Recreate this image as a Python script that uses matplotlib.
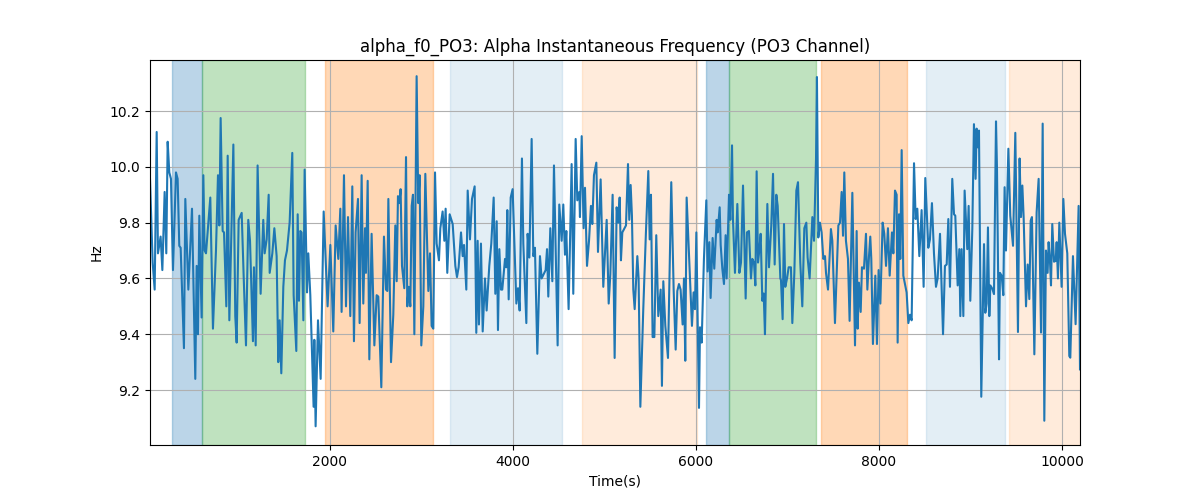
import matplotlib
matplotlib.use("Agg")
import matplotlib.pyplot as plt
import numpy as np

time_s = [
    33, 62, 84, 106, 120, 149, 168, 193, 211, 226, 244, 262, 284, 317, 335, 353, 368, 404, 419, 452,
    492, 528, 543, 557, 572, 597, 616, 630, 645, 692, 721, 754, 776, 791, 805, 827, 842, 867, 882, 900,
    918, 944, 965, 980, 1002, 1035, 1056, 1082, 1107, 1126, 1158, 1169, 1188, 1209, 1242, 1271, 1286, 1308, 1330, 1341,
    1370, 1392, 1417, 1435, 1450, 1468, 1490, 1508, 1530, 1559, 1588, 1603, 1632, 1647, 1661, 1676, 1690, 1709, 1723, 1749,
    1763, 1785, 1821, 1829, 1843, 1869, 1898, 1931, 1974, 2004, 2036, 2062, 2091, 2113, 2127, 2153, 2175, 2197, 2222, 2244,
    2262, 2280, 2306, 2324, 2346, 2364, 2383, 2393, 2412, 2430, 2455, 2485, 2510, 2528, 2561, 2590,
    2612, 2627, 2638, 2667, 2692, 2714, 2729, 2743, 2758, 2772, 2787, 2812, 2831, 2845, 2860, 2878, 2893, 2907, 2922, 2947,
    2965, 2980, 2998, 3020, 3042, 3075, 3093, 3111, 3129, 3148, 3166, 3191, 3206, 3231, 3250, 3264, 3282, 3308, 3341, 3370,
    3388, 3406, 3432, 3450, 3465, 3490, 3505, 3530, 3552, 3581, 3599, 3614, 3628, 3650, 3669, 3694, 3712, 3741, 3763, 3789,
    3807, 3822, 3836, 3851,
    3869, 3883, 3913, 3927, 3938, 3953, 3975, 3996, 4015, 4037, 4055, 4073, 4098, 4113, 4146, 4160, 4179, 4204, 4222, 4240,
    4266, 4295, 4313, 4343, 4357, 4372, 4386, 4408, 4430, 4448, 4470, 4488, 4506, 4532, 4550, 4568, 4583, 4608, 4641, 4659,
    4685, 4703, 4725, 4732, 4751, 4772, 4787, 4809, 4831, 4852, 4867, 4885, 4911, 4929, 4958, 4987, 5024, 5046, 5064, 5089, 5111,
    5133, 5151, 5166, 5180, 5195, 5235, 5257, 5271, 5286, 5300, 5315, 5330, 5359, 5373, 5392, 5424, 5453, 5479, 5494, 5508,
    5526, 5545, 5566, 5588, 5614, 5628, 5643, 5665, 5694, 5730, 5756, 5778, 5796, 5814, 5832, 5854, 5869, 5883, 5898, 5923,
    5956, 5974, 5989, 6004, 6033, 6044, 6062, 6087, 6113, 6127, 6146, 6160, 6182, 6200, 6226, 6237, 6259, 6270, 6288, 6306,
    6324, 6335, 6361,
    6375, 6394, 6404, 6426, 6452, 6474, 6492, 6514, 6543, 6557, 6579, 6601, 6616, 6634, 6649, 6663, 6678, 6692, 6707, 6725,
    6740, 6754, 6780, 6798, 6823, 6842, 6860, 6878, 6893, 6922, 6929, 6947, 6962, 6976, 6995, 7013, 7038, 7053, 7075, 7097,
    7115, 7140, 7162, 7184, 7206, 7220, 7242, 7272, 7290, 7312, 7322, 7337, 7355, 7373, 7392, 7410, 7421, 7443, 7475, 7490,
    7519, 7556, 7574, 7592, 7607, 7621,
    7639, 7661, 7679, 7709, 7723, 7738, 7756, 7767, 7781, 7800, 7814, 7836, 7858, 7873, 7891, 7905, 7916, 7934, 7960, 7978,
    7996, 8015, 8040, 8058, 8077, 8098, 8117, 8142, 8157, 8175, 8193, 8204, 8219, 8233, 8248, 8266, 8302, 8321, 8339, 8357,
    8383, 8401, 8419, 8441, 8466, 8488, 8506, 8539, 8557, 8579, 8601, 8623, 8641, 8667, 8685, 8700, 8721, 8740, 8758, 8776,
    8801, 8820, 8834, 8860, 8878,
    8889, 8903, 8922, 8936, 8965, 8980, 8998, 9020, 9038, 9056, 9067, 9078, 9093, 9118, 9148, 9162, 9177, 9191, 9206, 9217,
    9239, 9257, 9279, 9290, 9312, 9322, 9341, 9359, 9373, 9388, 9414, 9435, 9465, 9490, 9519, 9537, 9552, 9567, 9581, 9607,
    9625, 9643, 9658, 9672, 9698, 9723, 9745, 9771, 9789, 9807, 9825, 9843, 9854, 9869, 9880, 9894, 9913, 9931, 9942, 9956,
    9971, 9996, 10015, 10033, 10058, 10080, 10091, 10120, 10149, 10182, 10197,
]

freq_hz = [
    9.957, 9.657, 9.56, 10.125, 9.69, 9.75, 9.63, 9.91, 9.69, 10.09, 9.98, 9.957, 9.63, 9.98, 9.957, 9.717, 9.71, 9.35, 9.885, 9.56,
    9.85, 9.24, 9.645, 9.40, 9.825, 9.46, 9.97, 9.70, 9.69, 9.89, 9.42, 9.70, 9.97, 9.79, 10.175, 9.77, 9.765, 9.50, 10.04, 9.45,
    9.70, 10.08, 9.465, 9.37, 9.81, 9.835, 9.615, 9.36, 9.81, 9.735, 9.375, 9.64, 9.36, 10.005, 9.545, 9.81, 9.69, 9.74, 9.90, 9.62,
    9.69, 9.78, 9.68, 9.30, 9.45, 9.26, 9.57, 9.665, 9.70, 9.80, 10.05, 9.54, 9.34, 9.83, 9.52, 9.77, 9.765, 9.45, 9.99, 9.55,
    9.69, 9.54, 9.14, 9.38, 9.07, 9.45, 9.24, 9.84, 9.50, 9.72, 9.41, 9.79, 9.67, 9.85, 9.48, 9.97, 9.50, 9.82, 9.465, 9.93,
    9.375, 9.765, 9.885, 9.44, 9.97, 9.51, 9.78, 9.62, 9.95, 9.31, 9.76, 9.36, 9.54, 9.535, 9.21, 9.75,
    9.56, 9.555, 9.885, 9.30, 9.47, 9.79, 9.59, 9.895, 9.87, 9.92, 9.645, 9.565, 10.035, 9.50, 9.57, 9.50, 9.86, 9.90, 9.40, 10.325,
    9.87, 9.97, 9.36, 9.50, 9.975, 9.555, 9.69, 9.43, 9.42, 9.98, 9.725, 9.665, 9.78, 9.84, 9.735, 9.85, 9.62, 9.83, 9.795, 9.645,
    9.605, 9.64, 9.765, 9.68, 9.72, 9.56, 9.915, 9.74, 9.885, 9.93, 9.405, 9.735, 9.435, 9.725, 9.41, 9.60, 9.485, 9.645, 9.725, 9.89,
    9.545, 9.805, 9.415, 9.705,
    9.56, 9.56, 9.67, 9.64, 9.845, 9.525, 9.89, 9.92, 9.725, 9.51, 9.565, 9.485, 10.03, 9.725, 9.44, 9.76, 9.675, 10.10, 9.68, 9.71,
    9.33, 9.68, 9.60, 9.62, 9.63, 9.705, 9.535, 9.78, 9.59, 10.005, 9.655, 9.36, 9.865, 9.735, 9.865, 9.685, 9.77, 9.49, 10.01, 9.545,
    10.10, 9.88, 9.91, 9.82, 10.11, 9.78, 9.925, 9.645, 9.735, 9.86, 9.795, 9.97, 10.015, 9.695, 9.955, 9.57, 9.81, 9.51, 9.615, 9.90, 9.315,
    9.855, 9.80, 9.89, 9.665, 9.765, 9.79, 10.01, 9.81, 9.935, 9.825, 9.56, 9.49, 9.68, 9.60, 9.14, 9.49, 9.765, 9.985, 9.74, 9.90,
    9.39, 9.39, 9.755, 9.465, 9.56, 9.215, 9.59, 9.43, 9.315, 9.945, 9.56, 9.345, 9.555, 9.58, 9.56, 9.435, 9.60, 9.305, 9.89, 9.695,
    9.43, 9.55, 9.49, 9.765, 9.136, 9.425, 9.37, 9.67, 9.88, 9.625, 9.73, 9.53, 9.745, 9.635, 9.81, 9.765, 9.855, 9.72, 9.635, 9.58,
    9.755, 9.60, 9.90,
    9.81, 10.077, 9.813, 9.62, 9.867, 9.62, 9.657, 9.933, 9.528, 9.765, 9.77, 9.60, 9.67, 9.657, 9.575, 9.984, 9.657, 9.70, 9.76, 9.52,
    9.546, 9.40, 9.867, 9.64, 9.79, 9.975, 9.65, 9.90, 9.86, 9.60, 9.594, 9.454, 9.795, 9.57, 9.60, 9.64, 9.64, 9.44, 9.62, 9.915,
    9.945, 9.657, 9.50, 9.78, 9.80, 9.675, 9.60, 9.82, 9.735, 10.03, 10.322, 9.747, 9.80, 9.765, 9.67, 9.68, 9.62, 9.56, 9.777, 9.735,
    9.44, 9.79, 9.80, 9.91, 9.753, 9.98,
    9.735, 9.67, 9.448, 9.907, 9.645, 9.36, 9.77, 9.42, 9.585, 9.48, 9.64, 9.635, 9.76, 9.56, 9.68, 9.75, 9.67, 9.365, 9.61, 9.365,
    9.63, 9.51, 9.80, 9.76, 9.645, 9.78, 9.61, 9.765, 9.69, 9.915, 9.90, 9.37, 9.83, 9.67, 10.06, 9.61, 9.55, 9.44, 9.47, 9.45,
    10.013, 9.813, 9.85, 9.68, 9.845, 9.57, 9.96, 9.71, 9.74, 9.87, 9.69, 9.57, 9.60, 9.76, 9.56, 9.40, 9.645, 9.65, 9.813, 9.57,
    9.957, 9.83, 9.825, 9.575, 9.705,
    9.465, 9.705, 9.465, 9.915, 9.705, 9.86, 9.52, 9.777, 10.153, 9.957, 10.137, 10.07, 10.13, 9.176, 9.723, 9.477, 9.51, 9.783, 9.465, 9.575,
    9.563, 9.544, 10.163, 9.99, 9.31, 9.62, 9.61, 9.54, 9.927, 9.70, 10.065, 9.825, 9.717, 10.122, 9.408, 10.03, 9.82, 9.933, 9.82, 9.50,
    9.65, 9.526, 9.807, 9.82, 9.328, 9.837, 9.957, 9.406, 10.155, 9.09, 9.70, 9.62, 9.73, 9.66, 9.575, 9.795, 9.66, 9.663, 9.73, 9.60,
    9.80, 9.57, 9.885, 9.76, 9.69, 9.322, 9.316, 9.68, 9.436, 9.86, 9.274,
]

span_starts = [273, 598, 1945, 3311, 4754, 6109, 6357, 7366, 8514, 9421]
span_ends = [598, 1727, 3122, 4532, 6007, 6357, 7308, 8303, 9377, 10300]
span_colors = ["tab:blue", "tab:green", "tab:orange", "tab:blue", "tab:orange",
               "tab:blue", "tab:green", "tab:orange", "tab:blue", "tab:orange"]
span_alphas = [0.3, 0.3, 0.3, 0.12, 0.15, 0.3, 0.3, 0.3, 0.12, 0.15]

fig, ax = plt.subplots(figsize=(12, 5), dpi=100)
for s, e, c, a in zip(span_starts, span_ends, span_colors, span_alphas):
    ax.axvspan(s, e, color=c, alpha=a)
ax.plot(time_s, freq_hz, color="tab:blue", linewidth=1.5)
ax.set_xlim(time_s[0], time_s[-1])
ax.set_ylim(9.003, 10.383)
ax.set_yticks([9.2, 9.4, 9.6, 9.8, 10.0, 10.2])
ax.grid(True)
ax.set_title("alpha_f0_PO3: Alpha Instantaneous Frequency (PO3 Channel)")
ax.set_xlabel("Time(s)")
ax.set_ylabel("Hz")
fig.savefig("out.png", dpi=100)
